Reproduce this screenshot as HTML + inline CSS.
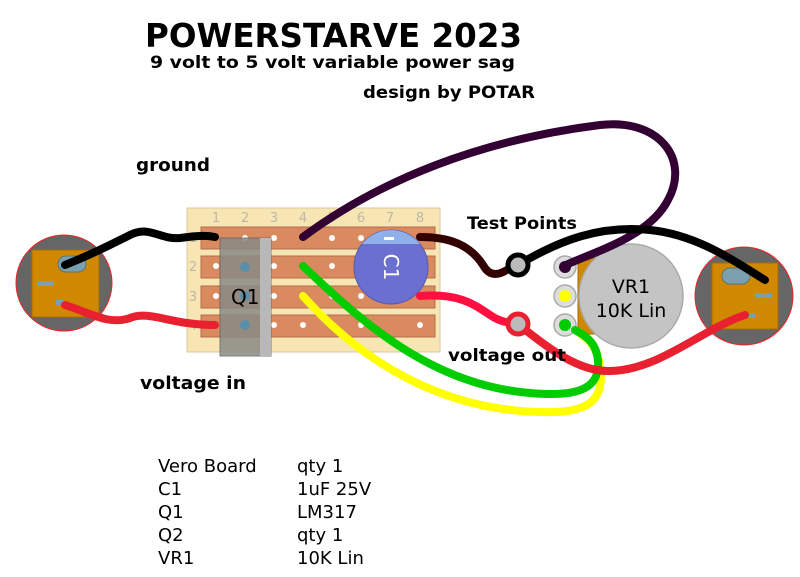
<!DOCTYPE html>
<html><head><meta charset="utf-8"><style>
html,body{margin:0;padding:0;background:#fff;width:800px;height:577px;overflow:hidden}
svg{display:block}
text{font-family:"DejaVu Sans","Liberation Sans",sans-serif}
</style></head><body>
<svg width="800" height="577" viewBox="0 0 800 577" xmlns="http://www.w3.org/2000/svg">
<text x="145" y="47" font-size="33" font-weight="bold" textLength="377" lengthAdjust="spacingAndGlyphs">POWERSTARVE 2023</text>
<text x="150" y="68" font-size="17" font-weight="bold" textLength="365" lengthAdjust="spacingAndGlyphs">9 volt to 5 volt variable power sag</text>
<text x="363" y="98" font-size="17" font-weight="bold" textLength="172" lengthAdjust="spacingAndGlyphs">design by POTAR</text>
<text x="136" y="171" font-size="18" font-weight="bold" textLength="74" lengthAdjust="spacingAndGlyphs">ground</text>
<text x="140" y="389" font-size="18" font-weight="bold" textLength="106" lengthAdjust="spacingAndGlyphs">voltage in</text>

<!-- board -->
<rect x="187" y="208" width="253" height="144" fill="#f7e6b4" stroke="#d8c99a"/>
<g fill="#999" font-size="13" text-anchor="middle" opacity="0.6">
<text x="216" y="222">1</text><text x="245" y="222">2</text><text x="274" y="222">3</text><text x="303" y="222">4</text><text x="332" y="222">5</text><text x="361" y="222">6</text><text x="390" y="222">7</text><text x="420" y="222">8</text>
<text x="193" y="242">1</text><text x="193" y="271">2</text><text x="193" y="301">3</text><text x="193" y="330">4</text>
</g>
<g fill="#d98a5f" stroke="#b46c48">
<rect x="201" y="227" width="234" height="22"/><rect x="201" y="256" width="234" height="22"/><rect x="201" y="286" width="234" height="22"/><rect x="201" y="315" width="234" height="22"/>
</g>
<g fill="#fff">
<circle cx="216" cy="266" r="3"/><circle cx="216" cy="296" r="3"/><circle cx="245" cy="238" r="3"/><circle cx="274" cy="238" r="3"/><circle cx="274" cy="266" r="3"/><circle cx="274" cy="296" r="3"/><circle cx="274" cy="325" r="3"/>
<circle cx="303" cy="325" r="3"/><circle cx="332" cy="238" r="3"/><circle cx="332" cy="266" r="3"/><circle cx="332" cy="296" r="3"/><circle cx="361" cy="238" r="3"/><circle cx="361" cy="296" r="3"/><circle cx="361" cy="325" r="3"/><circle cx="420" cy="325" r="3"/>
</g>
<!-- Q1 -->
<rect x="220" y="238" width="51" height="118" fill="#8a8a86" opacity="0.85" stroke="#666"/>
<rect x="260" y="238" width="11" height="118" fill="#b8b8b8"/>
<g fill="#5b8fa8"><circle cx="245" cy="267" r="5"/><circle cx="245" cy="296" r="5"/><circle cx="245" cy="325" r="5"/></g>
<text x="231" y="304" font-size="20">Q1</text>

<!-- C1 -->
<clipPath id="cc"><circle cx="391" cy="267" r="37"/></clipPath>
<circle cx="391" cy="267" r="37" fill="#6b6fcf" stroke="#5559b0"/>
<rect x="350" y="228" width="80" height="16" fill="#8fb0e8" clip-path="url(#cc)"/>
<rect x="384" y="237" width="10" height="3" fill="#fff"/>
<text x="0" y="0" font-size="20" fill="#fff" transform="translate(384,267) rotate(90)" text-anchor="middle">C1</text>

<!-- jacks -->
<circle cx="64" cy="283" r="48" fill="#666" stroke="#e22"/>
<rect x="32" y="250" width="67" height="67" fill="#d08800" stroke="#a86a00"/>
<rect x="58" y="256" width="28" height="16" rx="8" fill="#7aa0b0" stroke="#577"/>
<rect x="37" y="281" width="17" height="5" fill="#7aa0b0"/>
<rect x="56" y="300" width="8" height="5" fill="#7aa0b0"/>
<circle cx="744" cy="296" r="49" fill="#666" stroke="#e22"/>
<rect x="712" y="263" width="66" height="66" fill="#d08800" stroke="#a86a00"/>
<rect x="722" y="268" width="28" height="16" rx="8" fill="#7aa0b0" stroke="#577"/>
<rect x="755" y="293" width="17" height="5" fill="#7aa0b0"/>
<rect x="747" y="313" width="8" height="5" fill="#7aa0b0"/>

<!-- VR1 -->
<rect x="578" y="258" width="24" height="76" fill="#d08800" stroke="#a86a00"/>
<g fill="#ddd" stroke="#aaa" stroke-width="1.5">
<circle cx="565" cy="267" r="11"/><circle cx="565" cy="296" r="11"/><circle cx="565" cy="325" r="11"/></g>
<circle cx="565" cy="267" r="6" fill="#330033"/><circle cx="565" cy="296" r="6" fill="#ff0"/><circle cx="565" cy="325" r="6" fill="#0c0"/>
<circle cx="631" cy="296" r="52" fill="#c4c4c4" stroke="#aaa" stroke-width="1.5"/>
<text x="631" y="293" font-size="19" text-anchor="middle">VR1</text>
<text x="631" y="317" font-size="19" text-anchor="middle">10K Lin</text>

<!-- wires -->
<g fill="none" stroke-width="8" stroke-linecap="round">
<path d="M303 237 C380 180 480 140 600 125 C660 118 690 160 668 200 C650 235 600 250 568 264" stroke="#330033"/>
<path d="M420 237 C450 237 470 245 483 265 C490 278 500 275 510 268" stroke="#330000"/>
<path d="M420 296 C460 293 475 305 490 315 C500 322 510 323 515 323" stroke="#ff1040"/>
<path d="M303 296 C360 360 440 410 540 412 C590 414 605 400 600 365 C597 348 590 340 578 332" stroke="#ff0"/>
<path d="M303 266 C360 320 430 385 530 393 C585 398 600 385 598 360 C596 345 590 338 575 330" stroke="#0c0"/>
<path d="M518 265 C560 240 600 225 650 230 C700 235 740 265 765 280" stroke="#000"/>
<path d="M518 324 C550 350 580 372 610 371 C660 370 700 330 745 315" stroke="#e82030"/>
<path d="M65 265 C90 255 110 245 130 235 C150 225 160 240 180 238 C195 236 205 235 215 237" stroke="#000"/>
<path d="M65 305 C95 315 110 325 130 318 C150 310 170 325 215 325" stroke="#e82030"/>
</g>
<circle cx="518" cy="265" r="10" fill="#bbb" stroke="#000" stroke-width="5"/>
<circle cx="518" cy="324" r="10" fill="#bbb" stroke="#e82030" stroke-width="5"/>

<text x="467" y="229" font-size="17" font-weight="bold" textLength="110" lengthAdjust="spacingAndGlyphs">Test Points</text>
<text x="448" y="361" font-size="17" font-weight="bold" textLength="118" lengthAdjust="spacingAndGlyphs">voltage out</text>

<g font-size="18" fill="#000">
<text x="158" y="472">Vero Board</text><text x="297" y="472">qty 1</text>
<text x="158" y="495">C1</text><text x="297" y="495">1uF 25V</text>
<text x="158" y="518">Q1</text><text x="297" y="518">LM317</text>
<text x="158" y="541">Q2</text><text x="297" y="541">qty 1</text>
<text x="158" y="564">VR1</text><text x="297" y="564">10K Lin</text>
</g>
</svg>
</body></html>
